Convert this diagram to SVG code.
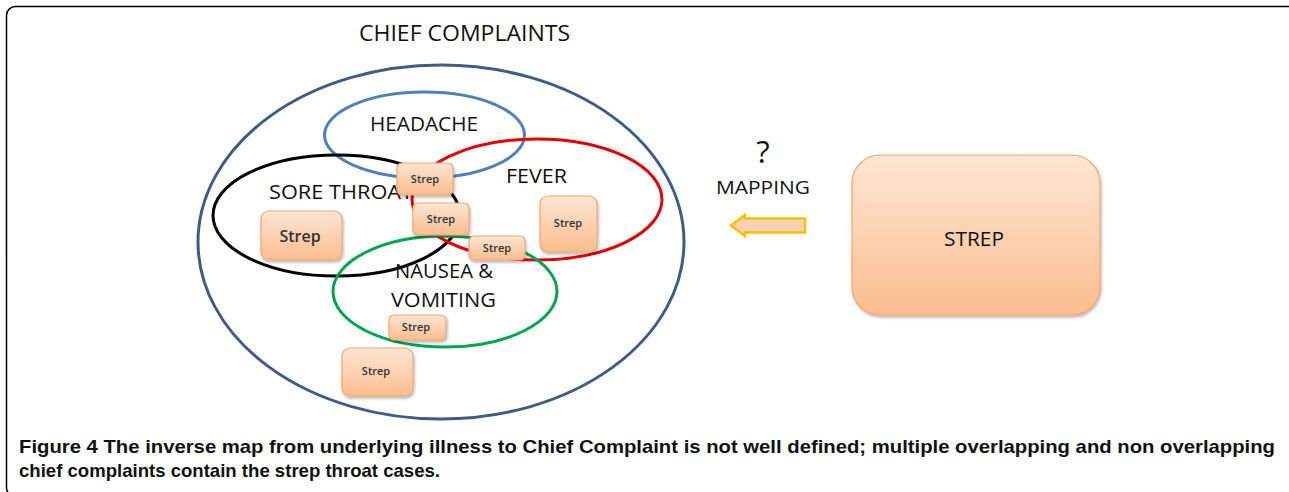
<svg xmlns="http://www.w3.org/2000/svg" width="1289" height="492" viewBox="0 0 1289 492">
<defs>
<linearGradient id="og" x1="0" y1="0" x2="0" y2="1">
<stop offset="0" stop-color="#fde6d4"/>
<stop offset="1" stop-color="#fbbd8f"/>
</linearGradient>
<filter id="sh" x="-20%" y="-20%" width="150%" height="150%">
<feDropShadow dx="1" dy="2" stdDeviation="1.5" flood-color="#000" flood-opacity="0.3"/>
</filter>
</defs>
<style>
.frame{fill:none;stroke:#000;stroke-width:1.5}
.ell{fill:none;stroke-width:3}
.lbl{font-family:"Open Sans","Liberation Sans",sans-serif;font-size:20px;fill:#111;text-anchor:middle}
.box{fill:url(#og);stroke:#f0a870;stroke-width:1.2;filter:url(#sh)}
.st{font-family:"Open Sans","Liberation Sans",sans-serif;font-size:11px;font-weight:600;fill:#333;text-anchor:middle}
.cap{font-family:"Liberation Sans",Arial,sans-serif;font-size:19px;font-weight:bold;fill:#111}
</style>
<rect class="frame" x="6.5" y="6.5" width="1294" height="490" rx="9"/>
<text class="lbl" x="464.5" y="41" style="font-size:21px" textLength="211" lengthAdjust="spacingAndGlyphs">CHIEF COMPLAINTS</text>
<g id="chief-complaints">
<ellipse class="ell" cx="441" cy="242" rx="243" ry="177" stroke="#3d5c8c"/>
</g>
<g id="headache">
<ellipse class="ell" cx="424.5" cy="135" rx="100" ry="43" stroke="#4f81bd"/>
<text class="lbl" x="424" y="131" textLength="108" lengthAdjust="spacingAndGlyphs">HEADACHE</text>
</g>
<g id="sore-throat">
<ellipse class="ell" cx="336.5" cy="215.5" rx="123.5" ry="60.5" stroke="#000"/>
<text class="lbl" x="341" y="199" textLength="144" lengthAdjust="spacingAndGlyphs">SORE THROAT</text>
</g>
<g id="fever">
<ellipse class="ell" cx="537" cy="199.5" rx="125" ry="60.5" stroke="#e60000"/>
<text class="lbl" x="536.5" y="183" textLength="61" lengthAdjust="spacingAndGlyphs">FEVER</text>
</g>
<g id="nausea">
<ellipse class="ell" cx="445" cy="291.5" rx="112" ry="55.5" stroke="#00a550"/>
<text class="lbl" x="444" y="278" textLength="98" lengthAdjust="spacingAndGlyphs">NAUSEA &amp;</text>
<text class="lbl" x="443.5" y="307" textLength="105" lengthAdjust="spacingAndGlyphs">VOMITING</text>
</g>
<g id="strep-1">
<rect class="box" x="397" y="163" width="56" height="32" rx="5"/>
<text class="st" x="425" y="183">Strep</text>
</g>
<g id="strep-2">
<rect class="box" x="413" y="203" width="56" height="32" rx="5"/>
<text class="st" x="441" y="223">Strep</text>
</g>
<g id="strep-3">
<rect class="box" x="469" y="236" width="56" height="24" rx="5"/>
<text class="st" x="497" y="252">Strep</text>
</g>
<g id="strep-4">
<rect class="box" x="540" y="196" width="57" height="56" rx="8"/>
<text class="st" x="568" y="227">Strep</text>
</g>
<g id="strep-5">
<rect class="box" x="261" y="211" width="81" height="49" rx="8"/>
<text class="st" x="300" y="242" style="font-size:16px">Strep</text>
</g>
<g id="strep-6">
<rect class="box" x="389" y="315" width="57" height="25" rx="5"/>
<text class="st" x="416" y="331">Strep</text>
</g>
<g id="strep-7">
<rect class="box" x="342" y="348" width="71" height="48" rx="8"/>
<text class="st" x="376" y="375">Strep</text>
</g>
<g id="strep-main">
<rect class="box" x="852" y="155" width="248" height="160" rx="28"/>
<text class="lbl" x="974" y="246" textLength="60" lengthAdjust="spacingAndGlyphs">STREP</text>
</g>
<g id="connectors">
<path d="M731,225.5 L745,215 L745,218.5 L805,218.5 L805,232.5 L745,232.5 L745,236 Z" fill="#f9d2b4" stroke="#f5c000" stroke-width="2.5" stroke-linejoin="miter"/>
<text class="lbl" x="763" y="163" style="font-size:31px">?</text>
<text class="lbl" x="763" y="194" style="font-size:18px" textLength="94" lengthAdjust="spacingAndGlyphs">MAPPING</text>
</g>
<text class="cap" x="19" y="453" textLength="1256" lengthAdjust="spacingAndGlyphs">Figure 4 <tspan font-weight="600">The inverse map from underlying illness to Chief Complaint is not well defined; multiple overlapping and non overlapping</tspan></text>
<text class="cap" x="19" y="477" textLength="421" lengthAdjust="spacingAndGlyphs">chief complaints contain the strep throat cases.</text>
</svg>
